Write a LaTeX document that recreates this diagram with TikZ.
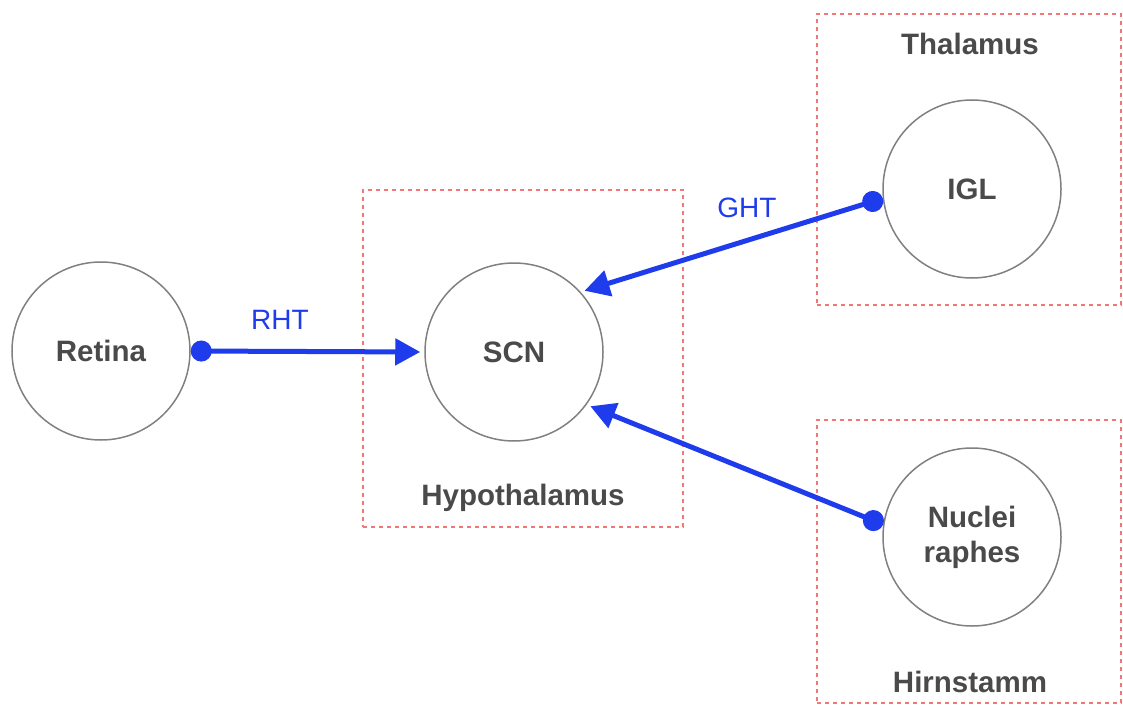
\documentclass[tikz,border=0pt]{standalone}
\usepackage{fontspec}
\setmainfont{Liberation Sans}
\usetikzlibrary{arrows.meta}
\definecolor{txtgray}{HTML}{4A4A4A}
\definecolor{ringgray}{HTML}{808080}
\definecolor{pathblue}{RGB}{30,60,235}
\definecolor{boxred}{HTML}{F07878}

\begin{document}
\begin{tikzpicture}[x=1pt,y=-1pt,
	area/.style={draw=boxred, line width=1.5pt, dash pattern=on 4pt off 4pt, inner sep=0pt},
	nucleus/.style={circle, draw=ringgray, line width=1.5pt, minimum size=178pt, inner sep=0pt,
		text=txtgray, align=center, font=\fontsize{29.5}{35}\selectfont\bfseries},
	region/.style={text=txtgray, anchor=base, font=\fontsize{29.5}{35}\selectfont\bfseries},
	tract/.style={text=pathblue, anchor=base, font=\fontsize{28}{34}\selectfont},
	link/.style={pathblue, line width=5pt, {Circle[length=21pt]}-{Triangle[length=25pt,width=26pt]}, shorten >=4pt}
]
\useasboundingbox (0,0) rectangle (1123,706);

\node[area, minimum width=320pt, minimum height=337pt] (hypobox) at (523,358.5) {};
\node[area, minimum width=304pt, minimum height=291pt] (thalbox) at (969,159.5) {};
\node[area, minimum width=304pt, minimum height=283pt] (hirnbox) at (969,561.5) {};

\node[region] (hypo) at (523,505) {Hypothalamus};
\node[region] (thal) at (970,55) {Thalamus};
\node[region] (hirn) at (970,692) {Hirnstamm};

\node[nucleus] (retina) at (101,351) {Retina};
\node[nucleus] (scn) at (514,352) {SCN};
\node[nucleus] (igl) at (972,189) {IGL};
\node[nucleus] (raphe) at (972,537) {Nuclei\\raphes};

\draw[link] (retina.east) -- (scn.west);
\draw[link] (igl.186) -- (scn.42);
\draw[link] (raphe.172) -- (scn.-36);

\node[tract] (rht) at (280,329) {RHT};
\node[tract] (ght) at (747,217) {GHT};
\end{tikzpicture}
\end{document}
